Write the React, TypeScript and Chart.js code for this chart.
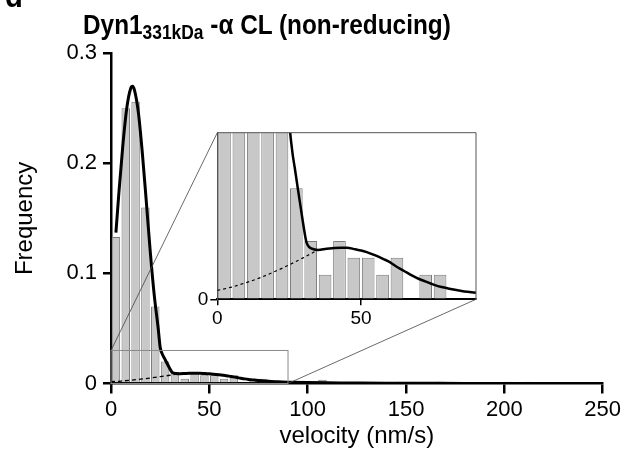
import React, { useEffect, useRef } from "react";
import { Chart, registerables } from "chart.js";

Chart.register(...registerables);

// ---------- data ----------
const histVelocity = [2.5, 7.5, 12.5, 17.5, 22.5, 27.5, 32.5, 37.5, 42.5, 47.5, 52.5, 57.5, 62.5, 72.5, 77.5, 107.5, 147.5, 152.5, 167.5, 202.5, 212.5];
const histFrequency = [0.133, 0.25, 0.256, 0.16, 0.07, 0.02, 0.0105, 0.0044, 0.0105, 0.0075, 0.0075, 0.0044, 0.0075, 0.0044, 0.0044, 0.0035, 0.0016, 0.0016, 0.0016, 0.0016, 0.0016];

const fitVelocity = [2.5, 4, 6, 8, 10, 11, 12, 14, 16, 18, 20, 22, 24, 25, 26, 27, 28, 29, 30, 31, 32, 33, 35, 38, 40, 43, 45, 48, 50, 52, 55, 58, 60, 62, 65, 68, 70, 73, 75, 78, 80, 85, 90, 100, 110, 120, 140, 160, 180, 200, 250];
const fitFrequency = [0.137, 0.173, 0.216, 0.25, 0.268, 0.27, 0.266, 0.245, 0.208, 0.164, 0.119, 0.08, 0.05, 0.033, 0.027, 0.0235, 0.02, 0.0166, 0.0132, 0.0103, 0.0094, 0.0091, 0.0089, 0.0091, 0.0092, 0.0093, 0.0093, 0.009, 0.0088, 0.0085, 0.0079, 0.0072, 0.0067, 0.006, 0.0051, 0.0042, 0.0037, 0.0031, 0.0027, 0.0022, 0.002, 0.0015, 0.0012, 0.0008, 0.0006, 0.0005, 0.0003, 0.0002, 0.0001, 0.0001, 0];

const compVelocity = [0, 5, 10, 15, 20, 25, 30, 35];
const compFrequency = [0.0016, 0.0022, 0.003, 0.0039, 0.005, 0.0062, 0.0075, 0.0089];

const mainXTicks = [0, 50, 100, 150, 200, 250];
const mainYTicks = [0, 0.1, 0.2, 0.3];
const insetXTicks = [0, 50];
const insetYTicks = [0];
const insetXMax = 90;
const insetYMax = 0.03;

const titleMain = "Dyn1";
const titleSub = "331kDa";
const titleRest = " -α CL (non-reducing)";
const xTitle = "velocity (nm/s)";
const yTitle = "Frequency";

// ---------- layout ----------
const W = 634;
const H = 451;
const FONT = "'Liberation Sans', Arial, Helvetica, sans-serif";
const MAIN = { left: 111, right: 602.7, top: 53.3, bottom: 383.5 };
const INSET = { left: 217.3, right: 476, top: 132.7, bottom: 299.3 };

const pts = (xs: number[], ys: number[]) => xs.map((x, i) => ({ x, y: ys[i] }));

export default function App() {
  const mainRef = useRef<HTMLCanvasElement | null>(null);
  const insetRef = useRef<HTMLCanvasElement | null>(null);

  useEffect(() => {
    if (!mainRef.current || !insetRef.current) return;

    const main = new Chart(mainRef.current, {
      type: "bar",
      data: {
        datasets: [
          {
            type: "line",
            data: pts(compVelocity, compFrequency),
            borderColor: "#000",
            borderWidth: 1.3,
            borderDash: [4, 3],
            pointRadius: 0,
            cubicInterpolationMode: "monotone",
          } as any,
          {
            type: "line",
            data: pts(fitVelocity, fitFrequency),
            borderColor: "#000",
            borderWidth: 3,
            pointRadius: 0,
            cubicInterpolationMode: "monotone",
          } as any,
          {
            type: "bar",
            data: pts(histVelocity, histFrequency),
            backgroundColor: "#c8c8c8",
            borderColor: "#7a7a7a",
            borderWidth: 1,
            barPercentage: 0.86,
            categoryPercentage: 1,
          } as any,
        ],
      },
      options: {
        animation: false,
        responsive: false,
        events: [],
        layout: { padding: { left: 0, top: MAIN.top, right: W - MAIN.right, bottom: 0 } },
        plugins: { legend: { display: false }, tooltip: { enabled: false } },
        scales: {
          x: {
            type: "linear",
            min: 0,
            max: 250,
            offset: false,
            z: 1,
            afterFit: (s: any) => {
              s.height = H - MAIN.bottom;
            },
            afterBuildTicks: (s: any) => {
              s.ticks = mainXTicks.map((v) => ({ value: v }));
            },
            ticks: { font: { size: 22, family: FONT }, color: "#000", padding: 3, maxRotation: 0 },
            grid: { offset: false, drawOnChartArea: false, tickLength: 10, color: "#000", lineWidth: 2.5 },
            border: { color: "#000", width: 2.5 },
            title: { display: true, text: xTitle, font: { size: 24, family: FONT }, color: "#000", padding: { top: 0, bottom: 0 } },
          } as any,
          y: {
            min: 0,
            max: 0.3,
            z: 1,
            afterFit: (s: any) => {
              s.width = MAIN.left;
            },
            afterBuildTicks: (s: any) => {
              s.ticks = mainYTicks.map((v) => ({ value: v }));
            },
            ticks: { font: { size: 22, family: FONT }, color: "#000", padding: 6 },
            grid: { drawOnChartArea: false, tickLength: 8, color: "#000", lineWidth: 2.5 },
            border: { color: "#000", width: 2.5 },
            title: { display: true, text: yTitle, font: { size: 24, family: FONT }, color: "#000", padding: { top: 11, bottom: 0 } },
          } as any,
        },
      },
    });

    const insetDecor = {
      id: "insetDecor",
      beforeDraw(chart: any) {
        const { ctx, chartArea: a } = chart;
        ctx.save();
        ctx.fillStyle = "#fff";
        ctx.fillRect(a.left, a.top, a.right - a.left, a.bottom - a.top);
        ctx.restore();
      },
      afterDraw(chart: any) {
        const { ctx, chartArea: a } = chart;
        const mx = main.scales.x;
        const my = main.scales.y;
        const rx0 = mx.getPixelForValue(0);
        const rx1 = mx.getPixelForValue(insetXMax);
        const ry0 = my.getPixelForValue(0);
        const ry1 = my.getPixelForValue(insetYMax);
        ctx.save();
        ctx.strokeStyle = "#555";
        ctx.lineWidth = 1;
        ctx.beginPath();
        ctx.moveTo(a.left, a.top);
        ctx.lineTo(a.right, a.top);
        ctx.lineTo(a.right, a.bottom);
        ctx.stroke();
        ctx.strokeStyle = "#8a8a8a";
        ctx.lineWidth = 1;
        ctx.strokeRect(rx0, ry1, rx1 - rx0, ry0 - ry1);
        ctx.strokeStyle = "#444";
        ctx.lineWidth = 0.8;
        ctx.beginPath();
        ctx.moveTo(rx0, ry1);
        ctx.lineTo(a.left, a.top);
        ctx.moveTo(rx1, ry0);
        ctx.lineTo(a.right, a.bottom);
        ctx.stroke();
        ctx.restore();
      },
    };

    const inset = new Chart(insetRef.current, {
      type: "bar",
      data: {
        datasets: [
          {
            type: "line",
            data: pts(compVelocity, compFrequency),
            borderColor: "#000",
            borderWidth: 1.2,
            borderDash: [3, 3],
            pointRadius: 0,
            cubicInterpolationMode: "monotone",
            clip: 0,
          } as any,
          {
            type: "line",
            data: pts(fitVelocity, fitFrequency),
            borderColor: "#000",
            borderWidth: 2.5,
            pointRadius: 0,
            cubicInterpolationMode: "monotone",
            clip: 0,
          } as any,
          {
            type: "bar",
            data: pts(histVelocity, histFrequency),
            backgroundColor: "#c8c8c8",
            borderColor: "#7a7a7a",
            borderWidth: 1,
            barPercentage: 0.88,
            categoryPercentage: 1,
            clip: 0,
          } as any,
        ],
      },
      plugins: [insetDecor],
      options: {
        animation: false,
        responsive: false,
        events: [],
        layout: { padding: { left: 0, top: INSET.top, right: W - INSET.right, bottom: 0 } },
        plugins: { legend: { display: false }, tooltip: { enabled: false } },
        scales: {
          x: {
            type: "linear",
            min: 0,
            max: insetXMax,
            offset: false,
            z: 1,
            afterFit: (s: any) => {
              s.height = H - INSET.bottom;
            },
            afterBuildTicks: (s: any) => {
              s.ticks = insetXTicks.map((v) => ({ value: v }));
            },
            ticks: { font: { size: 19, family: FONT }, color: "#000", padding: 2, maxRotation: 0 },
            grid: { offset: false, drawOnChartArea: false, tickLength: 6, color: "#000", lineWidth: 1.5 },
            border: { color: "#000", width: 2 },
          } as any,
          y: {
            min: 0,
            max: insetYMax,
            z: 1,
            afterFit: (s: any) => {
              s.width = INSET.left;
            },
            afterBuildTicks: (s: any) => {
              s.ticks = insetYTicks.map((v) => ({ value: v }));
            },
            ticks: { font: { size: 19, family: FONT }, color: "#000", padding: 2 },
            grid: { drawOnChartArea: false, tickLength: 7, color: "#000", lineWidth: 1.5 },
            border: { color: "#555", width: 1 },
          } as any,
        },
      },
    });

    return () => {
      inset.destroy();
      main.destroy();
    };
  }, []);

  return (
    <div style={{ position: "absolute", left: 0, top: 0, width: W, height: H, overflow: "hidden", background: "#fff" }}>
      <canvas ref={mainRef} width={W} height={H} style={{ position: "absolute", left: 0, top: 0 }} />
      <canvas ref={insetRef} width={W} height={H} style={{ position: "absolute", left: 0, top: 0 }} />
      <div
        style={{
          position: "absolute",
          left: 5,
          top: -22,
          font: `bold 34px ${FONT}`,
          lineHeight: "34px",
          transform: "scaleX(0.86)",
          transformOrigin: "0 0",
          color: "#000",
        }}
      >
        d
      </div>
      <div
        style={{
          position: "absolute",
          left: 83,
          top: 11.3,
          font: `bold 28px ${FONT}`,
          lineHeight: "28px",
          whiteSpace: "nowrap",
          transform: "scaleX(0.87)",
          transformOrigin: "0 0",
          color: "#000",
        }}
      >
        {titleMain}
        <span style={{ fontSize: 20, position: "relative", top: 5 }}>{titleSub}</span>
        {titleRest}
      </div>
    </div>
  );
}
